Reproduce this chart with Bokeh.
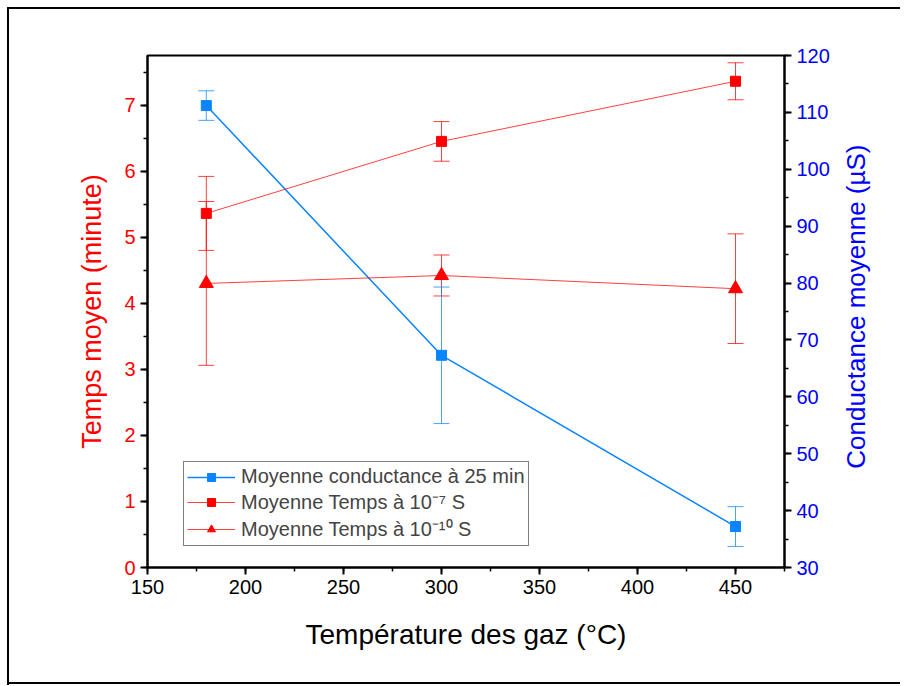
import math
from bokeh.plotting import figure
from bokeh.layouts import row
from bokeh.models import (Range1d, LinearAxis, Whisker, ColumnDataSource, Legend,
                          LegendItem, SingleIntervalTicker, TeeHead)
from bokeh.core.properties import value
from bokeh.embed import file_html
from bokeh.resources import INLINE

# ---- data ----
temperature = [180, 300, 450]
conductance = [111.2, 67.3, 37.2]
conductance_err = [2.6, 12.0, 3.5]
temps_1e7 = [5.36, 6.45, 7.36]
temps_1e7_err = [0.56, 0.30, 0.28]
temps_1e10 = [4.30, 4.42, 4.22]
temps_1e10_err = [1.24, 0.31, 0.83]
right_title = ["Conductance moyenne (µS)"]

RED = "#ff0000"
BLUE = "#0a84ff"
FONT = "Liberation Sans"

W, H = 900, 685
W1 = 840                              # main figure width; the rest holds the right title
FL, FT, FR, FB = 147, 55, 784, 567   # frame edges in the picture
p = figure(width=W1, height=H, output_backend="svg", toolbar_location=None,
           x_range=Range1d(150, 475), y_range=Range1d(0, 7.75),
           min_border_left=FL, min_border_right=W1 - FR,
           min_border_top=FT, min_border_bottom=H - FB)
p.grid.visible = False
p.outline_line_color = "black"
p.outline_line_width = 2
p.background_fill_color = "white"
p.border_fill_alpha = 0

p.extra_y_ranges = {"right": Range1d(30, 120)}
right_axis = LinearAxis(y_range_name="right")
p.add_layout(right_axis, "right")

def style_axis(ax, color, label, ticker, size="27px"):
    ax.ticker = ticker
    ax.axis_label = label
    ax.axis_label_text_color = color
    ax.axis_label_text_font = FONT
    ax.axis_label_text_font_size = size
    ax.axis_label_text_font_style = "normal"
    ax.major_label_text_color = color
    ax.major_label_text_font = FONT
    ax.major_label_text_font_size = "20px"
    ax.axis_line_color = "black"
    ax.axis_line_width = 2
    ax.major_tick_line_color = "black"
    ax.major_tick_line_width = 2
    ax.minor_tick_line_color = "black"
    ax.minor_tick_line_width = 1.5
    ax.major_tick_in = 0
    ax.major_tick_out = 7
    ax.minor_tick_in = 0
    ax.minor_tick_out = 4

style_axis(p.xaxis[0], "black", "Température des gaz (°C)",
           SingleIntervalTicker(interval=50, num_minor_ticks=2), "28px")
style_axis(p.yaxis[0], RED, "Temps moyen (minute)",
           SingleIntervalTicker(interval=1, num_minor_ticks=2), "27px")
style_axis(right_axis, "#0000ff", None,
           SingleIntervalTicker(interval=10, num_minor_ticks=2))
p.xaxis[0].axis_label_standoff = 22
p.yaxis[0].axis_label_standoff = 14

src = ColumnDataSource(dict(
    x=temperature,
    cond=conductance,
    cond_lo=[v - e for v, e in zip(conductance, conductance_err)],
    cond_hi=[v + e for v, e in zip(conductance, conductance_err)],
    t7=temps_1e7,
    t7_lo=[v - e for v, e in zip(temps_1e7, temps_1e7_err)],
    t7_hi=[v + e for v, e in zip(temps_1e7, temps_1e7_err)],
    t10=temps_1e10,
    t10_lo=[v - e for v, e in zip(temps_1e10, temps_1e10_err)],
    t10_hi=[v + e for v, e in zip(temps_1e10, temps_1e10_err)],
))

def whisker(lo, hi, color, yname="default"):
    w = Whisker(base="x", lower=lo, upper=hi, source=src, dimension="height",
                line_color=color, line_width=1, line_alpha=0.75,
                upper_head=TeeHead(size=16, line_color=color, line_alpha=0.75, line_width=1),
                lower_head=TeeHead(size=16, line_color=color, line_alpha=0.75, line_width=1),
                y_range_name=yname)
    p.add_layout(w)

whisker("t7_lo", "t7_hi", RED)
whisker("t10_lo", "t10_hi", RED)
whisker("cond_lo", "cond_hi", BLUE, "right")

l1 = p.line("x", "cond", source=src, color=BLUE, line_width=1.5, y_range_name="right")
m1 = p.scatter("x", "cond", source=src, marker="square", size=10, color=BLUE,
               y_range_name="right")
l2 = p.line("x", "t7", source=src, color=RED, line_width=1, line_alpha=0.75)
m2 = p.scatter("x", "t7", source=src, marker="square", size=10, color=RED)
l3 = p.line("x", "t10", source=src, color=RED, line_width=1, line_alpha=0.75)
m3 = p.scatter("x", "t10", source=src, marker="triangle", size=14, color=RED)

legend = Legend(items=[
    LegendItem(label="Moyenne conductance à 25 min", renderers=[l1, m1]),
    LegendItem(label="Moyenne Temps à 10⁻⁷ S", renderers=[l2, m2]),
    LegendItem(label="Moyenne Temps à 10⁻¹⁰ S", renderers=[l3, m3]),
], location=(36, 21))
legend.border_line_color = "black"
legend.border_line_width = 1
legend.background_fill_color = "white"
legend.background_fill_alpha = 1
legend.label_text_font = FONT
legend.label_text_font_size = "20px"
legend.glyph_width = 48
legend.glyph_height = 20
legend.label_height = 20
legend.spacing = 0
legend.padding = 3
legend.margin = 0
legend.label_standoff = 6
p.add_layout(legend, "center")

# narrow strip holding the right axis title (reads bottom-to-top)
W2 = W - W1
p2 = figure(width=W2, height=H, output_backend="svg", toolbar_location=None,
            x_range=Range1d(0, W2), y_range=Range1d(H, 0),
            x_axis_type=None, y_axis_type=None,
            min_border_left=0, min_border_right=0, min_border_top=0, min_border_bottom=0)
p2.grid.visible = False
p2.outline_line_color = None
p2.background_fill_alpha = 0
p2.border_fill_alpha = 0
p2.text(x=[855 - W1], y=[336], text=right_title, angle=math.pi / 2,
        text_align="center", text_baseline="middle", text_color="#0000ff",
        text_font=value(FONT), text_font_size="26px")

layout = row(p, p2, spacing=0)
# outer frame of the picture
layout.styles = {
    "background-color": "white",
    "background-image": ("linear-gradient(black, black), linear-gradient(black, black), "
                         "linear-gradient(black, black)"),
    "background-size": f"2px {H}px, {W}px 2px, {W}px 2px",
    "background-position": f"7px 7px, 7px 7px, 7px {H - 3}px",
    "background-repeat": "no-repeat",
}

open("out.html", "w").write(file_html(layout, INLINE))
